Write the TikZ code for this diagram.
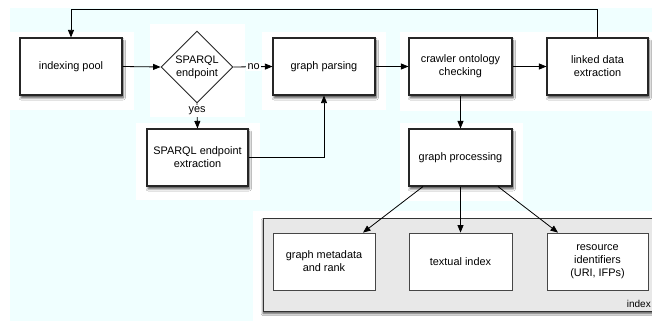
\documentclass[tikz,border=0pt]{standalone}
\usepackage{fontspec}
\setmainfont{Liberation Sans}
\usetikzlibrary{shapes.geometric,arrows.meta,calc,shadows.blur}
\definecolor{bgcyan}{RGB}{240,255,255}
\definecolor{idxgray}{RGB}{232,232,232}
\definecolor{innerborder}{RGB}{70,70,70}
\tikzset{
  mainbox/.style={draw=black!85, line width=1.1pt, fill=white, minimum width=#1, minimum height=57pt,
    align=center, inner sep=2pt, font=\fontsize{10.9}{13}\selectfont,
    blur shadow={shadow xshift=1.2pt, shadow yshift=-2.8pt, shadow blur steps=6, shadow blur radius=2.2pt, shadow opacity=70}},
  mainbox/.default=102pt,
  innerbox/.style={draw=innerborder, line width=0.8pt, fill=white, minimum width=#1, minimum height=57pt,
    align=center, inner sep=2pt, font=\fontsize{10.9}{13}\selectfont},
  innerbox/.default=102pt,
  decision/.style={diamond, draw=black!85, line width=0.9pt, fill=white, minimum width=72pt, minimum height=72pt,
    inner sep=0pt, aspect=1, align=center, font=\fontsize{10.9}{13}\selectfont},
  arr/.style={draw=black, line width=0.8pt, -{Triangle[length=7.5pt,width=6pt]}},
  lbl/.style={fill=white, inner sep=1.5pt, font=\fontsize{10.9}{13}\selectfont},
  patch/.style={fill=white, draw=none}
}
\begin{document}
\begin{tikzpicture}[x=1pt,y=-1pt]
\useasboundingbox (0,0) rectangle (652,321);
\clip (0,0) rectangle (652,321);
\fill[white] (0,0) rectangle (652,321);
\fill[bgcyan] (10,8) rectangle (652,321);
% white patches
\fill[patch] (10,32) rectangle (134,110);
\fill[patch] (150,24) rectangle (245,117);
\fill[patch] (262,32) rectangle (386,110);
\fill[patch] (400,32) rectangle (652,111);
\fill[patch] (136,123) rectangle (260,200);
\fill[patch] (400,123) rectangle (523,201);
\fill[patch] (253,211) rectangle (652,321);

% index group
\node[draw=black!80, line width=1pt, fill=idxgray, minimum width=397pt, minimum height=93pt, inner sep=0pt,
  blur shadow={shadow xshift=0pt, shadow yshift=-2.5pt, shadow blur steps=6, shadow blur radius=2pt, shadow opacity=70}]
  (grp) at (461.5,264.5) {};
\node[anchor=south east, inner sep=0pt, font=\fontsize{10}{12}\selectfont] (idxlbl) at (651,307.5) {index};

% main nodes
\node[mainbox] (pool) at (71,66.5) {indexing pool};
\node[decision] (sp) at (197,67) {SPARQL\\endpoint};
\node[mainbox] (gparse) at (324,66.5) {graph parsing};
\node[mainbox=103pt] (crawl) at (460.5,66.5) {crawler ontology\\checking};
\node[mainbox=101pt] (linked) at (597.5,66.5) {linked data\\extraction};
\node[mainbox=101pt] (ext) at (197.5,157.5) {SPARQL endpoint\\extraction};
\node[mainbox=103pt] (gproc) at (460.5,157.5) {graph processing};

\node[innerbox] (meta) at (324,261.5) {graph metadata\\and rank};
\node[innerbox=103pt] (tidx) at (460.5,261.5) {textual index};
\node[innerbox=101pt] (rid) at (597.5,261.5) {resource\\identifiers\\(URI, IFPs)};

% connectors
\coordinate (loopL) at (71,9);
\draw[arr] (linked.north) |- (loopL) -- (pool.north);
\draw[arr] (pool.east) -- (sp.west);
\draw[arr] (sp.east) -- node[lbl, pos=0.52] {no} (gparse.west);
\draw[arr] (sp.south) -- node[lbl, pos=0.3] {yes} (ext.north);
\draw[arr] (ext.east) -| (gparse.south);
\draw[arr] (gparse.east) -- (crawl.west);
\draw[arr] (crawl.east) -- (linked.west);
\draw[arr] (crawl.south) -- (gproc.north);
\draw[arr] ($(gproc.south)+(-37.5,0)$) -- ($(meta.north)+(39,0)$);
\draw[arr] (gproc.south) -- (tidx.north);
\draw[arr] ($(gproc.south)+(37.5,0)$) -- ($(rid.north)+(-39.5,0)$);
\end{tikzpicture}
\end{document}
